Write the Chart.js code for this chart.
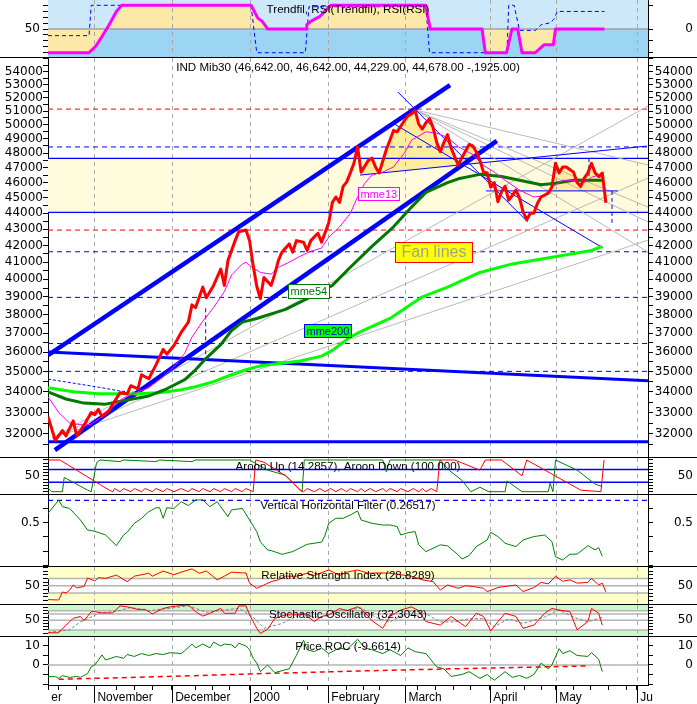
<!DOCTYPE html>
<html>
<head>
<meta charset="utf-8">
<title>IND Mib30</title>
<script src="https://cdn.jsdelivr.net/npm/chart.js@4.4.1/dist/chart.umd.min.js"></script>
<style>
  html, body { margin: 0; padding: 0; background: #fff; }
  #board { position: relative; width: 697px; height: 704px; overflow: hidden; background: #fff; }
  #board canvas { position: absolute; left: 0; }
</style>
</head>
<body>
<div id="board">
  <canvas id="trendPanel" width="697" height="58" style="top:0"></canvas>
  <canvas id="pricePanel" width="697" height="400" style="top:58px"></canvas>
  <canvas id="aroonPanel" width="697" height="37" style="top:458px"></canvas>
  <canvas id="vhfPanel" width="697" height="72" style="top:495px"></canvas>
  <canvas id="rsiPanel" width="697" height="38" style="top:567px"></canvas>
  <canvas id="stochPanel" width="697" height="32" style="top:605px"></canvas>
  <canvas id="rocPanel" width="697" height="67" style="top:637px"></canvas>
</div>
<script>
// x is counted in trading days from mid October 1999
const XMAX = 166.7;

const monthDays   = [0, 12.8, 34.4, 56.1, 77.8, 99.2, 122.8, 141.1, 163.6];
const monthLabels = ['er', 'November', 'December', '2000', 'February', 'March', 'April', 'May', 'Ju'];
const weekDays    = [3, 8, 19, 24, 29, 41, 45.6, 50.3, 62, 67, 72, 83, 87.7, 92, 102.7, 107.7, 112.6, 117.5, 127.4, 132.4, 137, 145.9, 150.6, 155.6, 160.7];

// Trendfil panel
const trendfil = [[0,0],[11.4,0],[13.2,13],[15,34],[17,59],[19,87],[20.5,100],[56.4,100],[58.3,73],[59.5,66],[60.8,53],[61,50],
  [71.7,50],[71.9,59],[73,66],[75.6,77],[77.4,91],[78.6,100],[104.9,100],[106.2,50],[120.6,50],[121.5,0],[127.4,0],[128.9,50],
  [130.5,50],[131.7,0],[135.4,0],[137.9,17],[140.4,17],[141,50],[154.6,50]];
const rsiTrendfil = [[0,36],[11.4,36],[12,100],[56.4,100],[58,0],[71.5,0],[72.5,97],[105,97],[106,0],[127.5,0],[128,100],
  [129.5,100],[131,47],[135.4,47],[137,59],[139.5,63],[140.5,70],[141.5,87],[154.6,87]];

// price panel
const mib30 = [
  [0,32800],[2,31700],[4,32150],[5,31900],[7,32600],[8,31900],[9,32150],[10,32400],[12,33000],[13,32900],
  [14,33150],[15,32800],[17,33100],[18,33400],[20,33950],[22,33900],[23,34300],[25,34150],[26,34850],[28,34650],
  [30,35350],[32,36150],[33,35900],[35,36350],[37,37050],[39,37600],[40,38550],[41,38400],[43,39550],[44,38950],
  [46,39650],[48,40600],[49,39650],[50,41100],[52,42300],[53,42850],[55,42950],[56,42300],[57,40800],[58,39600],
  [59,38900],[60,40100],[62,39650],[63,40300],[64,41100],[65,41600],[67,42100],[68,41600],[69,42300],[71,42200],
  [72,41700],[73,42300],[75,42750],[76,42200],[78,43400],[79,44700],[80,45050],[81,44700],[82,45750],[83,46050],
  [84,46650],[85,47300],[86,48450],[87,46700],[89,47500],[90,47650],[91,47050],[92,46650],[94,48250],[95,48900],
  [96,49600],[97,49500],[99,50300],[100,50650],[101,50800],[102,51050],[103,50050],[104,49700],[105,50150],[106,50450],
  [107,49800],[108,48750],[109,48100],[110,48750],[111,49300],[112,48350],[114,47170],[115,47700],[117,48600],[118,48500],
  [119,48100],[120,47500],[121,46700],[122,46650],[123,45700],[124,46000],[125,44750],[126,45400],[127,45750],[128,44850],
  [129,45150],[130,45500],[131,45000],[132,44100],[133,43600],[134,44000],[135,44000],[136,44650],[137,45050],[139,45300],
  [140,45700],[141,47300],[142,46650],[143,47050],[144,47050],[146,46700],[147,46000],[148,45750],[149,46300],[150,46650],
  [151,47300],[152,46650],[153,46400],[154,46640],[155,44680]
];
const mme13 = [[0,33750],[3,33000],[6,32500],[10,32400],[12,32450],[15,32800],[18,33300],[21,33700],[25,34000],[28,34200],
  [32,34750],[35,35250],[38,35950],[40,36800],[43,37650],[46,38400],[49,39300],[51,40250],[54,40900],[55,41000],[56,40800],
  [59,40400],[62,40300],[64,40700],[67,41000],[70,41350],[73,41650],[76,41850],[78,42500],[81,43150],[84,44000],[86,45050],
  [88,45950],[90,46500],[93,46700],[96,47050],[99,48000],[101,48900],[105,49500],[108,49400],[111,49100],[114,48450],
  [118,47900],[121,47150],[124,46700],[127,46150],[131,45500],[135,45050],[138,45150],[140,45700],[143,46150],[146,46150],
  [149,46000],[151,46350],[153,46500],[154,46250]];
const mme54 = [[0,34000],[5,33650],[10,33450],[16,33400],[22,33600],[28,33800],[33,34150],[38,34600],[41,35100],[44,35700],
  [48,36400],[51,37150],[54,37600],[58,37800],[66,38300],[73,39000],[79,39650],[84,40700],[90,41950],[96,43150],[101,44400],
  [105,45350],[111,46000],[114,46250],[120,46550],[126,46400],[131,46150],[137,45850],[141,45950],[146,46150],[151,46150],
  [154,46150]];
const mme200 = [[0,34200],[7,34000],[14,33900],[24,33900],[31,33950],[37,34100],[41,34250],[46,34500],[51,34850],[55,35100],
  [59,35300],[70,35550],[76,35800],[79,36100],[84,36800],[87,37100],[95,37800],[104,39000],[111,39550],[120,40400],
  [129,40900],[140,41300],[151,41700],[154,41950]];
const oldAverage = [[0,34630],[7,34430],[14,34230],[20,34040],[26,33940]];

const zoneEdges  = [44060, 47640];
const redLevels  = [51150, 42950];
const blueLevels = [48430, 41625, 38970, 36460, 35020];
const channelUp   = [[0,35850],[111.7,52960]];
const channelDown = [[1.9,31250],[124.7,48850]];
const slopeDown   = [[0,36010],[166.7,34550]];
const floorLine   = [[0,31630],[166.7,31630]];
const supportLine = [[86.7,46500],[166.4,48490]];
const pivotLine   = [[121.7,45450],[158.3,45450]];
const thinLines = [
  [[97.2,52430],[133.3,43450]],
  [[95.8,50130],[154.2,41850]]
];
const dropMarks = [
  [[43.8,38360],[43.8,35610]],
  [[150.3,47650],[150.3,46150]],
  [[156.7,45450],[156.7,43260]]
];
const fanLines = [
  [[1.1,31800],[166.7,51380]],
  [[1.1,31800],[166.7,46300]],
  [[1.1,31800],[166.7,42330]],
  [[101.9,51100],[166.7,47180]],
  [[101.9,51100],[166.7,44400]],
  [[101.9,51100],[166.7,43450]],
  [[101.9,51100],[166.7,41600]]
];
const noteText  = ['mme13', 'mme54', 'mme200', 'Fan lines'];
const noteDay   = [86.1, 66.7, 71.1, 96.4];
const noteValue = [45700, 39720, 37490, 42210];

// Aroon
const aroonUp = [[0,11],[1,0],[4,0],[4.5,45],[11,5],[12,0],[13.5,92],[14.5,100],[20,95],[21,100],[30,95],[31,100],[40,95],
  [41,100],[56,100],[61,68],[66,52],[70.6,0],[71.2,100],[93,100],[94,63],[95,100],[109,100],[111.4,68],[115,36],[117.5,0],
  [120,14],[122.5,0],[127,0],[127.5,34],[131.7,0],[139,0],[139.5,27],[140.3,0],[141,100],[147,68],[152,24],[154,16]];
const aroonDown = [[0,100],[3.3,100],[17,5],[18,0],[18.5,10],[20,0],[21,10],[23,0],[24,10],[26,0],[27,10],[29,0],[30,10],
  [32,0],[33,10],[35,0],[37,10],[39,0],[40,10],[42,0],[43,10],[45,0],[46,10],[48,0],[49,10],[51,0],[52,10],[54,0],[55,10],
  [57,0],[57.7,100],[60,93],[66,50],[70,5],[71,0],[72,10],[74,0],[75.5,10],[77,0],[78.5,10],[80,0],[81.5,10],[83,0],
  [84,10],[86,0],[87,10],[88,0],[89.5,10],[91,0],[93,10],[94,0],[95,10],[97,0],[98,10],[100,0],[101.5,10],[103,0],
  [104,10],[105,0],[106.5,10],[108,0],[108.9,100],[113,100],[120,68],[121.5,100],[126,100],[131.7,50],[133,100],
  [148,5],[153.6,0],[154.5,100]];

// Vertical Horizontal Filter
const vhf = [[0,0.566],[3,0.659],[4,0.612],[6,0.6],[9,0.519],[11,0.449],[13,0.44],[16,0.414],[19,0.339],[21,0.414],
  [22,0.433],[24,0.496],[26,0.531],[28,0.577],[30,0.604],[31,0.605],[32,0.531],[33,0.605],[35,0.6],[37,0.647],[39,0.62],
  [41,0.659],[43,0.659],[45,0.612],[47,0.647],[50,0.542],[51,0.59],[54,0.6],[56,0.519],[58,0.437],[59,0.367],[61,0.309],
  [62,0.305],[65,0.279],[68,0.298],[72,0.349],[76,0.364],[77,0.414],[78,0.496],[80,0.531],[82,0.531],[84,0.554],
  [86,0.582],[87,0.519],[90,0.496],[93,0.484],[95,0.484],[97,0.473],[98,0.414],[100,0.43],[102,0.438],[103,0.345],
  [105,0.298],[109,0.345],[111,0.338],[114,0.274],[115,0.246],[117,0.27],[119,0.333],[122,0.379],[123,0.433],[125,0.403],
  [127,0.356],[130,0.333],[132,0.379],[135,0.403],[138,0.414],[140,0.368],[141,0.262],[143,0.239],[145,0.279],[147,0.28],
  [150,0.339],[152,0.31],[153,0.326],[154,0.265]];
const vhfLevel = 0.657;

// RSI
const rsi = [[0,12],[3,11],[4,33],[5,30],[6,38],[7,52],[8,44],[10,48],[11,71],[13,63],[14,72],[16,70],[19,79],[22,61],
  [24,76],[28,84],[29,76],[32,90],[35,80],[37,87],[40,96],[42,84],[44,90],[47,66],[49,76],[51,87],[54,85],[55,85],[56,57],
  [58,43],[60,52],[62,61],[64,66],[66,76],[69,76],[72,84],[74,78],[78,93],[81,78],[83,87],[86,93],[89,84],[92,85],[95,84],
  [98,80],[101,76],[104,66],[107,61],[109,38],[111,52],[114,43],[116,50],[118,48],[121,43],[122,34],[125,45],[127,48],
  [130,52],[132,34],[135,45],[137,59],[139,55],[141,76],[143,62],[145,66],[147,57],[150,59],[151,70],[153,52],[154,57],
  [155,33]];

// Stochastic
const stochK = [[0,11],[3,11],[5,35],[7,56],[9,62],[10,49],[12,77],[13,77],[15,73],[18,73],[20,95],[22,92],[25,84],[27,84],
  [29,70],[32,87],[34,92],[37,96],[39,98],[41,77],[43,63],[45,72],[48,87],[49,72],[52,72],[53,95],[55,95],[56,67],[58,25],
  [59,9],[61,22],[63,56],[66,67],[69,67],[71,72],[74,46],[76,62],[78,67],[81,87],[83,80],[86,92],[87,87],[90,49],[93,25],
  [95,62],[98,82],[101,92],[103,80],[105,46],[109,35],[112,62],[116,30],[119,72],[121,62],[123,17],[125,46],[127,72],
  [130,62],[132,25],[135,35],[138,72],[140,87],[142,82],[145,77],[147,20],[150,46],[151,87],[153,72],[154,35]];
const stochD = [[0,12],[6,20],[9,45],[12,60],[14,72],[19,78],[23,90],[28,80],[34,88],[39,95],[44,75],[48,80],[53,88],
  [57,60],[60,25],[65,40],[70,68],[76,58],[81,80],[87,88],[91,60],[95,45],[101,80],[105,70],[109,45],[113,45],[117,55],
  [121,55],[124,30],[128,55],[132,40],[138,60],[142,82],[146,60],[150,45],[154,60]];

// Price ROC
const roc = [[0,-6.1],[2,-6.1],[3,-7],[4,-5.6],[6,-6.5],[8,-6],[9,-6.5],[11,-4.5],[12,-1],[13,0],[14,2.6],[15,5.3],
  [16,2.6],[19,4.5],[21,3.5],[22,5.5],[24,4.5],[26,6],[28,5],[30,6],[32,5.5],[34,6.5],[37,6],[38,7.5],[40,11],[41,9],
  [43,11],[45,9],[46,12],[48,10],[49,11],[51,10.6],[52,9],[53,11.4],[55,10],[56,8],[57,3.5],[58,1],[59,-3.5],[61,0],
  [63,-4],[65,-3],[67,-2],[69,5],[71,13],[72,8],[74,7],[76,9],[78,6],[81,9],[83,8],[86,13.5],[88,9],[90,8],[93,6],
  [95,8],[98,5],[100,9],[102,7],[105,6],[108,-1],[110,-2],[112,-6],[115,-5],[117,-3.5],[120,-7],[122,-5],[124,-8],
  [127,-3.5],[129,-6.5],[131,-5.5],[133,-7],[135,-5],[137,1],[139,-2],[140,0],[142,8.6],[143,6],[145,7.5],[147,5],
  [150,4.5],[151,6.5],[153,3],[154,-3.5]];
const rocSignal = [[3,-7.5],[30,-6.2],[56,-4.7],[83,-3.3],[110,-2.1],[130,-1.3],[150,-0.5]];

// ---------- helpers ----------
const tickFont = { family: 'DejaVu Sans', size: 12 };
const P = arr => arr.map(([x, y]) => ({ x, y }));
const line = (arr, color, width, extra) => Object.assign({
  data: P(arr), borderColor: color, borderWidth: width, pointRadius: 0, fill: false, tension: 0
}, extra || {});
const level = (v, color, width, dash) => line([[0, v], [XMAX, v]], color, width, dash ? { borderDash: dash } : {});
const band = (from, to, color) => line([[0, to], [XMAX, to]], 'rgba(0,0,0,0)', 0, { fill: { value: from }, backgroundColor: color });

function yScale(side, c) {
  const marks = side === 'left' ? c.ticks : (c.ticksR || c.ticks);
  const named = side === 'left' ? c.labels : (c.labelsR || c.labels);
  return {
    type: c.type || 'linear', position: side, min: c.min, max: c.max,
    afterBuildTicks: s => { s.ticks = marks.map(v => ({ value: v })); },
    afterFit: s => { s.width = side === 'left' ? 48 : 45; s.paddingTop = 0; s.paddingBottom = 0; },
    grid: { drawOnChartArea: false, tickLength: 5, tickColor: '#000' },
    border: { color: '#000' },
    ticks: {
      autoSkip: false, color: '#000', font: tickFont,
      padding: side === 'left' ? (c.padL !== undefined ? c.padL : 3) : 0,
      crossAlign: side === 'left' ? 'near' : 'far',
      callback: v => { const hit = named.find(n => n[0] === v); return hit ? hit[1] : ''; }
    }
  };
}

function decorations(opt) {
  return {
    id: 'deco',
    beforeDatasetsDraw(chart) {
      const { ctx, chartArea: a, scales: { x } } = chart;
      ctx.save();
      ctx.strokeStyle = '#a8a8a8'; ctx.lineWidth = 1; ctx.setLineDash([4, 4]);
      monthDays.slice(1).forEach(d => {
        const px = Math.round(x.getPixelForValue(d)) + 0.5;
        ctx.beginPath(); ctx.moveTo(px, a.top); ctx.lineTo(px, a.bottom); ctx.stroke();
      });
      ctx.restore();
    },
    afterDatasetsDraw(chart) {
      const { ctx, chartArea: a, scales: { x, y } } = chart;
      ctx.save();
      (opt.notes || []).forEach(n => {
        ctx.font = n.font;
        const w = Math.round(ctx.measureText(n.text).width + n.pad * 2);
        const px = Math.round(x.getPixelForValue(n.day)) + 0.5;
        const py = Math.round(y.getPixelForValue(n.value)) + 0.5;
        ctx.fillStyle = n.bg; ctx.fillRect(px, py, w, n.h);
        ctx.strokeStyle = n.edge; ctx.lineWidth = 1; ctx.strokeRect(px, py, w, n.h);
        ctx.fillStyle = n.fg; ctx.textAlign = 'left'; ctx.textBaseline = 'middle';
        ctx.fillText(n.text, px + n.pad, py + n.h / 2 + 0.5);
      });
      ctx.font = '11.6px "Liberation Sans"'; ctx.fillStyle = '#000';
      ctx.textAlign = 'center'; ctx.textBaseline = 'top';
      ctx.fillText(opt.title, (a.left + a.right) / 2, a.top + opt.titleTop);
      ctx.restore();
    },
    afterDraw(chart) {
      const { ctx, width, height } = chart;
      ctx.save(); ctx.strokeStyle = '#000'; ctx.lineWidth = 1;
      if (opt.separator) {
        ctx.beginPath(); ctx.moveTo(0, height - 0.5); ctx.lineTo(width, height - 0.5); ctx.stroke();
      }
      if (opt.monthBars) {
        const x = chart.scales.x;
        monthDays.slice(1).forEach(d => {
          const px = Math.round(x.getPixelForValue(d)) + 0.5;
          ctx.beginPath(); ctx.moveTo(px, x.top); ctx.lineTo(px, height - 1); ctx.stroke();
        });
      }
      ctx.restore();
    }
  };
}

function panel(id, c) {
  const n = c.datasets.length;
  c.datasets.forEach((d, i) => { d.order = n - i; });   // later in list = drawn on top
  return new Chart(document.getElementById(id), {
    type: 'line',
    data: { datasets: c.datasets },
    options: {
      responsive: false, animation: false, events: [],
      layout: { padding: { right: 4 } },
      elements: { point: { radius: 0 }, line: { tension: 0, borderJoinStyle: 'round' } },
      plugins: {
        legend: { display: false }, tooltip: { enabled: false },
        filler: { drawTime: 'beforeDatasetsDraw' }
      },
      scales: {
        x: c.xAxis || { type: 'linear', min: 0, max: XMAX, display: false },
        y: yScale('left', c.y),
        y2: yScale('right', c.y)
      }
    },
    plugins: [decorations(c.deco)]
  });
}

// ---------- Trendfil ----------
panel('trendPanel', {
  y: { min: -11.2, max: 111.2, ticks: [0, 12.5, 25, 37.5, 50, 62.5, 75, 87.5, 100], ticksR: [0, 25, 50, 100],
       labels: [[50, '50']], labelsR: [[50, '0']] },
  deco: { title: 'Trendfil, RSI(Trendfil), RSI(RSI)', titleTop: 4, separator: true },
  datasets: [
    band(50, 111.2, '#cde8f9'),
    band(50, -11.2, '#9cd5f4'),
    line(trendfil, 'rgba(0,0,0,0)', 0, { fill: { value: 50 }, backgroundColor: '#fce9a8' }),
    level(50, '#a0a0a0', 1.5),
    line(rsiTrendfil, '#0000ff', 1, { borderDash: [4, 3] }),
    line(trendfil, '#ff00ff', 3)
  ]
});

// ---------- price ----------
const mainLabelled = [];
for (let v = 32000; v <= 54000; v += 1000) mainLabelled.push(v);
const mainMarks = [];
for (let v = 31500; v <= 55000; v += 500) mainMarks.push(v);

const priceSets = [];
priceSets.push(band(zoneEdges[0], zoneEdges[1], '#fffbdc'));
redLevels.forEach(v => priceSets.push(level(v, '#ff0000', 1, [5, 4])));
blueLevels.forEach(v => priceSets.push(level(v, '#0000ff', 1, [5, 4])));
zoneEdges.forEach(v => priceSets.push(level(v, '#0000ff', 1.2)));
fanLines.forEach(s => priceSets.push(line(s, '#b9b9b9', 1)));
priceSets.push(line(oldAverage, '#0000ff', 1, { borderDash: [3, 2] }));
thinLines.forEach(s => priceSets.push(line(s, '#0000ff', 1)));
dropMarks.forEach(s => priceSets.push(line(s, '#0000ff', 1, { borderDash: [4, 3] })));
const supportSet = line(supportLine, '#0000ff', 1);
priceSets.push(supportSet);
priceSets.push(line(pivotLine, '#0000ff', 1));
priceSets.push(line(slopeDown, '#0000ff', 3));
priceSets.push(line(floorLine, '#0000ff', 3));
priceSets.push(line(channelUp, '#0000ff', 4.5));
priceSets.push(line(channelDown, '#0000ff', 4.5));
priceSets.push(line(mib30.filter(p => p[0] >= 86 && p[0] <= 120), 'rgba(0,0,0,0)', 0,
  { fill: { target: priceSets.indexOf(supportSet), above: '#ffec9c', below: 'rgba(0,0,0,0)' } }));
priceSets.push(line(mib30.filter(p => p[0] >= 140 && p[0] <= 154), 'rgba(0,0,0,0)', 0,
  { fill: { value: pivotLine[0][1] }, backgroundColor: '#ffec9c' }));
priceSets.push(line(mme200, '#00ff00', 3));
priceSets.push(line(mme54, '#007800', 3));
priceSets.push(line(mme13, '#ff00ff', 1));
priceSets.push(line(mib30, '#ff0000', 3));

const noteStyle = [
  { fg: '#ff00ff', bg: '#ffffff', edge: '#ff00ff', font: '11px "Liberation Sans"', pad: 2, h: 13 },
  { fg: '#007800', bg: '#ffffff', edge: '#007800', font: '11px "Liberation Sans"', pad: 2, h: 14 },
  { fg: '#0000cc', bg: '#00ff00', edge: '#0000ff', font: '11px "Liberation Sans"', pad: 2, h: 13 },
  { fg: '#a0a0a0', bg: '#ffff00', edge: '#ff0000', font: '16px "Liberation Sans"', pad: 6, h: 20 }
];

panel('pricePanel', {
  y: { type: 'logarithmic', min: 30900, max: 55070, ticks: mainMarks,
       labels: mainLabelled.map(v => [v, String(v)]), padL: 0 },
  deco: {
    title: 'IND Mib30 (46,642.00, 46,642.00, 44,229.00, 44,678.00 -,1925.00)', titleTop: 4, separator: true,
    notes: noteText.map((t, i) => Object.assign({ text: t, day: noteDay[i], value: noteValue[i] }, noteStyle[i]))
  },
  datasets: priceSets
});

// ---------- Aroon ----------
const tens = [0, 10, 20, 30, 40, 50, 60, 70, 80, 90, 100];
panel('aroonPanel', {
  y: { min: -10.4, max: 106.3, ticks: tens, labels: [[50, '50']] },
  deco: { title: 'Aroon Up (14.2857), Aroon Down (100.000)', titleTop: 3, separator: true },
  datasets: [
    level(70, '#0000ff', 1.5),
    level(30, '#0000ff', 1.5),
    line(aroonUp, '#008000', 1),
    line(aroonDown, '#ff0000', 1)
  ]
});

// ---------- VHF ----------
panel('vhfPanel', {
  y: { min: 0.19, max: 0.694, ticks: [0.2, 0.3, 0.4, 0.5, 0.6], labels: [[0.5, '0.5']] },
  deco: { title: 'Vertical Horizontal Filter (0.26517)', titleTop: 5, separator: true },
  datasets: [
    level(vhfLevel, '#0000ff', 1.2, [5, 4]),
    line(vhf, '#008000', 1)
  ]
});

// ---------- RSI ----------
panel('rsiPanel', {
  y: { min: -2.7, max: 101.1, ticks: [0, 10, 20, 30, 40, 50, 60, 70, 80, 90, 100], labels: [[50, '50']] },
  deco: { title: 'Relative Strength Index (28.8289)', titleTop: 3, separator: true },
  datasets: [
    band(70, 101.1, '#ffffc8'),
    band(30, -2.7, '#ffffc8'),
    level(70, '#b4b4b4', 1.5),
    level(50, '#b4b4b4', 1.5),
    level(30, '#b4b4b4', 1.5),
    line(rsi, '#ff0000', 1)
  ]
});

// ---------- Stochastic ----------
panel('stochPanel', {
  y: { min: -2.2, max: 97.8, ticks: [0, 10, 20, 30, 40, 50, 60, 70, 80, 90], labels: [[50, '50']] },
  deco: { title: 'Stochastic Oscillator (32.3043)', titleTop: 4, separator: true },
  datasets: [
    band(80, 97.8, '#ccf6cc'),
    band(20, -2.2, '#ccf6cc'),
    level(80, '#b4b4b4', 1.5),
    level(70, '#b4b4b4', 1.5),
    level(50, '#b4b4b4', 1.5),
    level(20, '#b4b4b4', 1.5),
    line(stochD, '#808080', 1, { borderDash: [3, 2] }),
    line(stochK, '#ff0000', 1)
  ]
});

// ---------- Price ROC + time axis ----------
panel('rocPanel', {
  y: { min: -10.5, max: 14.7, ticks: [-10, -5, 0, 5, 10], labels: [[10, '10'], [0, '0']] },
  deco: { title: 'Price ROC (-9.6614)', titleTop: 4, separator: false, monthBars: true },
  xAxis: {
    type: 'linear', min: 0, max: XMAX, position: 'bottom',
    afterBuildTicks: s => { s.ticks = weekDays.concat(monthDays).sort((a, b) => a - b).map(v => ({ value: v })); },
    afterFit: s => { s.height = 19; s.paddingLeft = 0; s.paddingRight = 0; },
    grid: { drawOnChartArea: false, tickLength: 5, tickColor: '#000' },
    border: { color: '#000' },
    ticks: {
      autoSkip: false, maxRotation: 0, minRotation: 0, align: 'start', padding: 0, color: '#000',
      font: { family: 'Liberation Sans', size: 12 },
      callback: v => { const i = monthDays.indexOf(v); return i >= 0 ? ' ' + monthLabels[i] : ''; }
    }
  },
  datasets: [
    level(0, '#b4b4b4', 1.5),
    line(rocSignal, '#ff0000', 1.5, { borderDash: [5, 4] }),
    line(roc, '#008000', 1)
  ]
});
</script>
</body>
</html>
